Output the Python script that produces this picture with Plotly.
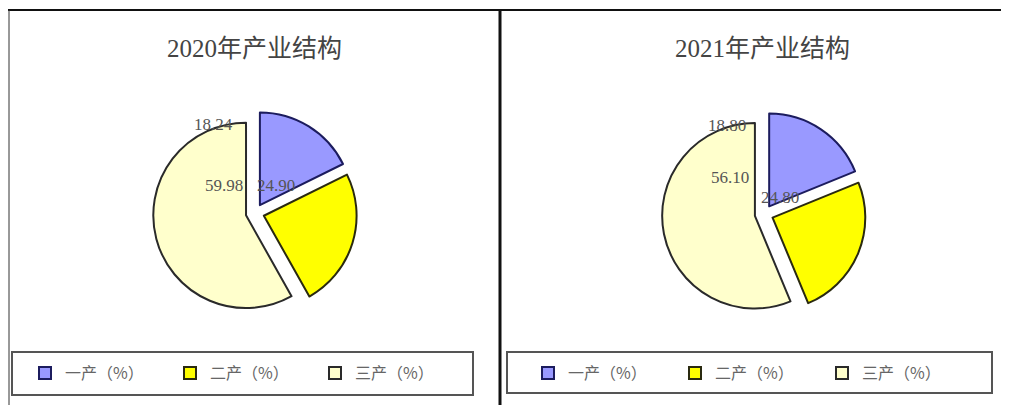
import plotly.graph_objects as go

# ---- data ----
categories = ["一产（%）", "二产（%）", "三产（%）"]
years = ["2020", "2021"]
values_2020 = [18.24, 24.90, 59.98]
values_2021 = [18.80, 24.80, 56.10]
titles = ["2020年产业结构", "2021年产业结构"]

# page body has an 8px default margin: lay out in page pixels and convert
OFF = 8
W, H = 1009 - OFF, 405 - OFF
colors = ["#9999ff", "#ffff00", "#ffffcc"]
line_colors = ["#1c1c5e", "#2a2a10", "#2a2a2a"]


def px(x):
    return (x - OFF) / W


def py(y):
    return 1 - (y - OFF) / H


fig = go.Figure()

centers = [(255, 213), (764, 214)]
half = 102
for i, vals in enumerate([values_2020, values_2021]):
    cx, cy = centers[i]
    # invisible suffix keeps the second chart's legend entries separate
    labs = categories if i == 0 else [c + "\u200b" for c in categories]
    fig.add_trace(go.Pie(
        labels=labs,
        values=vals,
        sort=False,
        direction="clockwise",
        rotation=0,
        pull=[0.1, 0.1, 0.1],
        textinfo="none",
        hoverinfo="label+value",
        marker=dict(colors=colors, line=dict(color=line_colors, width=2)),
        domain=dict(x=[px(cx - half), px(cx + half)], y=[py(cy + half), py(cy - half)]),
        legend="legend" if i == 0 else "legend2",
        name=years[i],
    ))

# data labels (text placed like the original export)
label_pos = [
    [(213, 124), (276, 185), (224, 185)],
    [(727, 126), (780, 197), (730, 177)],
]
annotations = []
for i, vals in enumerate([values_2020, values_2021]):
    for v, (x, y) in zip(vals, label_pos[i]):
        annotations.append(dict(
            x=px(x), y=py(y), xref="paper", yref="paper",
            text=f"{v:.2f}", showarrow=False,
            font=dict(family="Liberation Serif, serif", size=17, color="#555555"),
            xanchor="center", yanchor="middle"))
# titles
for t, x in zip(titles, [254, 762]):
    annotations.append(dict(
        x=px(x), y=py(48), xref="paper", yref="paper", text=t, showarrow=False,
        font=dict(family="Liberation Serif, Noto Sans CJK SC, serif", size=25, color="#444444"),
        xanchor="center", yanchor="middle"))

shapes = [
    # panel frame lines
    dict(type="line", xref="paper", yref="paper", x0=px(8), x1=1, y0=py(10), y1=py(10),
         line=dict(color="#111111", width=2)),
    dict(type="line", xref="paper", yref="paper", x0=px(9), x1=px(9), y0=py(10), y1=0,
         line=dict(color="#333333", width=1)),
    dict(type="line", xref="paper", yref="paper", x0=px(500), x1=px(500), y0=py(10), y1=0,
         line=dict(color="#111111", width=3)),
    # legend boxes
    dict(type="rect", xref="paper", yref="paper", x0=px(12), x1=px(473), y0=py(395), y1=py(352),
         line=dict(color="#555555", width=2)),
    dict(type="rect", xref="paper", yref="paper", x0=px(507), x1=px(992), y0=py(393), y1=py(352),
         line=dict(color="#555555", width=2)),
]

legend_common = dict(
    orientation="h", xanchor="left", yanchor="middle",
    bgcolor="rgba(0,0,0,0)", borderwidth=0,
    font=dict(family="Noto Sans CJK SC, sans-serif", size=16, color="#666666"),
    entrywidthmode="pixels", itemwidth=30,
)

fig.update_layout(
    width=W, height=H,
    margin=dict(l=0, r=0, t=0, b=0),
    paper_bgcolor="white", plot_bgcolor="white",
    showlegend=True,
    legend=dict(x=px(25), y=py(373), entrywidth=100, **legend_common),
    legend2=dict(x=px(528), y=py(373), entrywidth=102, **legend_common),
    annotations=annotations,
    shapes=shapes,
)

fig.write_html("out.html")
